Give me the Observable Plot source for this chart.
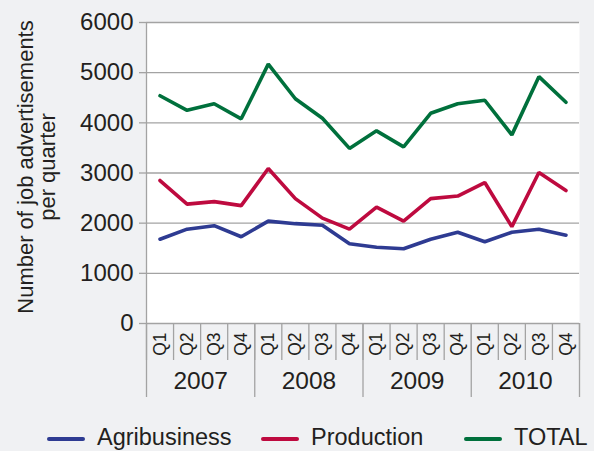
<!DOCTYPE html>
<html>
<head>
<meta charset="utf-8">
<script src="https://cdn.jsdelivr.net/npm/d3@7"></script>
<script src="https://cdn.jsdelivr.net/npm/@observablehq/plot@0.6"></script>
<style>
  html, body { margin: 0; padding: 0; background: #f0f1f3; }
  body { width: 594px; height: 451px; overflow: hidden; font-family: "Liberation Sans", Arial, Helvetica, sans-serif; }
  #legend { position: relative; width: 594px; height: 41px; color: #231f20; font-size: 23.5px; }
  .sw { position: absolute; top: 27px; width: 38px; height: 4px; border-radius: 2px; }
  .lb { position: absolute; top: 14px; line-height: 26px; }
</style>
</head>
<body>
<div id="chart"></div>
<div id="legend"></div>
<script>
const quarters = ["Q1", "Q2", "Q3", "Q4"];
const years = ["2007", "2008", "2009", "2010"];
const agribusiness = [1680, 1880, 1950, 1730, 2040, 1990, 1960, 1590, 1520, 1490, 1680, 1820, 1630, 1820, 1880, 1760];
const production  = [2850, 2380, 2430, 2350, 3090, 2490, 2100, 1880, 2320, 2040, 2490, 2540, 2810, 1930, 3010, 2650];
const total       = [4540, 4250, 4380, 4080, 5170, 4480, 4090, 3490, 3840, 3520, 4190, 4380, 4450, 3760, 4920, 4410];
const seriesNames = ["Agribusiness", "Production", "TOTAL"];
const seriesColors = ["#2e3b92", "#be0a3f", "#00703c"];
const yTicks = [0, 1000, 2000, 3000, 4000, 5000, 6000];
const yTitle = "Number of job advertisements\nper quarter";

const seriesValues = [agribusiness, production, total];
const rows = [];
seriesNames.forEach((name, s) => {
  seriesValues[s].forEach((v, i) => rows.push({series: name, i, value: v}));
});
const idx = d3.range(quarters.length * years.length);
const quarterEdges = d3.range(idx.length + 1).map(k => k - 0.5);
const yearEdges = d3.range(years.length + 1).map(k => k * quarters.length - 0.5);
const yearCenters = years.map((y, k) => k * quarters.length + (quarters.length - 1) / 2);

const grid = "#a3a3a3";
const chart = Plot.plot({
  width: 594,
  height: 410,
  marginTop: 22,
  marginLeft: 146,
  marginRight: 15,
  marginBottom: 87,
  style: {background: "transparent", fontFamily: '"Liberation Sans", Arial, Helvetica, sans-serif', color: "#231f20", overflow: "visible"},
  x: {type: "linear", domain: [-0.5, idx.length - 0.5]},
  y: {domain: [0, 6000]},
  color: {domain: seriesNames, range: seriesColors},
  marks: [
    Plot.frame({fill: "white", stroke: null}),
    Plot.gridY({ticks: yTicks, stroke: grid, strokeOpacity: 1, strokeWidth: 1.3}),
    Plot.axisY({ticks: yTicks, tickSize: 7, tickPadding: 6, fontSize: 24, label: null, stroke: grid, strokeWidth: 1.3, tickFormat: d => String(d)}),
    Plot.ruleX([-0.5], {y1: 0, y2: 6000, stroke: grid, strokeWidth: 1.3}),
    Plot.axisX({ticks: quarterEdges, tickSize: 37, tickFormat: () => "", label: null, stroke: grid, strokeWidth: 1.3}),
    Plot.axisX({ticks: yearEdges, tickSize: 74, tickFormat: () => "", label: null, stroke: grid, strokeWidth: 1.3}),
    Plot.axisX({ticks: idx, tickSize: 0, tickPadding: 9, tickRotate: -90, fontSize: 17.5, label: null, tickFormat: i => quarters[i % quarters.length]}),
    Plot.axisX({ticks: yearCenters, tickSize: 0, tickPadding: 48, fontSize: 24.5, label: null, tickFormat: c => years[Math.round((c - 1.5) / quarters.length)]}),
    Plot.line(rows, {x: "i", y: "value", stroke: "series", z: "series", strokeWidth: 3.6, strokeLinejoin: "miter", strokeLinecap: "round"}),
    Plot.text([yTitle], {frameAnchor: "left", textAnchor: "middle", rotate: -90, dx: -110, dy: -6, fontSize: 22, lineHeight: 1.0, fill: "#231f20"})
  ]
});
document.getElementById("chart").appendChild(chart);

const legend = document.getElementById("legend");
const swX = [47, 261, 464];
seriesNames.forEach((name, s) => {
  const sw = document.createElement("div");
  sw.className = "sw";
  sw.style.left = swX[s] + "px";
  sw.style.background = seriesColors[s];
  legend.appendChild(sw);
  const lb = document.createElement("div");
  lb.className = "lb";
  lb.style.left = (swX[s] + 50) + "px";
  lb.textContent = name;
  legend.appendChild(lb);
});
</script>
</body>
</html>
